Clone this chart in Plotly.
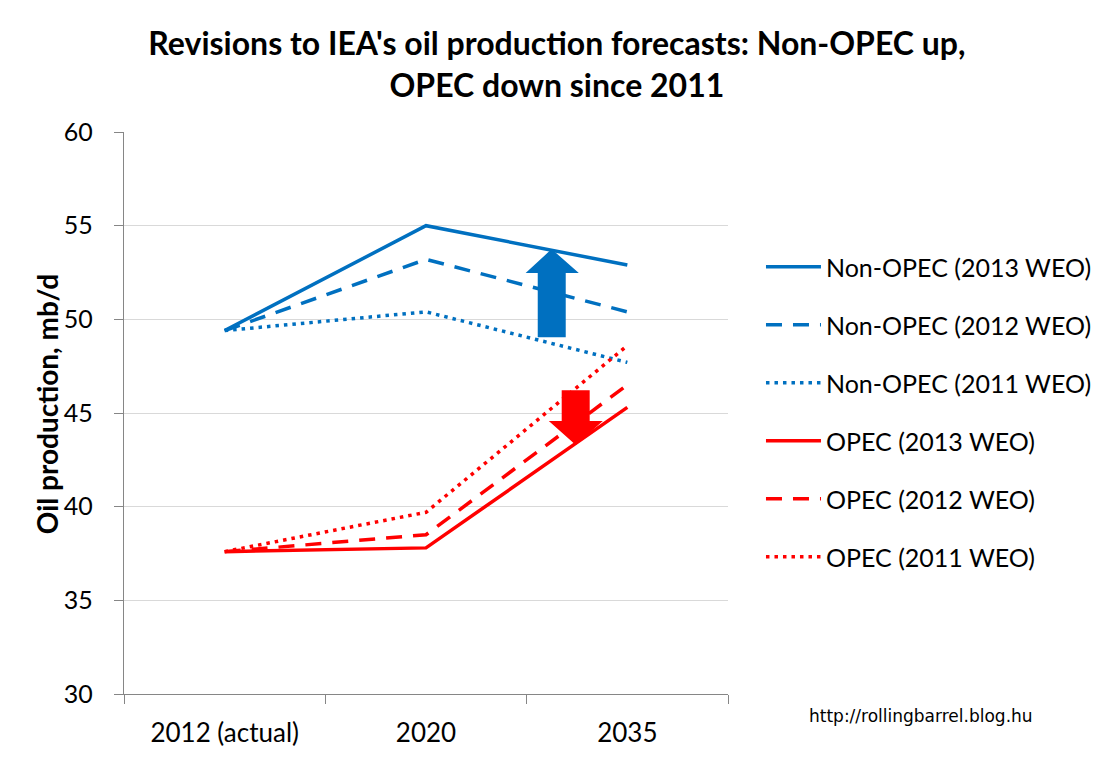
import plotly.graph_objects as go

categories = ["2012 (actual)", "2020", "2035"]
cat_pos = [0, 1, 2]

non_opec_2013 = [49.4, 55.0, 52.9]
non_opec_2012 = [49.4, 53.2, 50.4]
non_opec_2011 = [49.4, 50.4, 47.7]
opec_2013 = [37.6, 37.8, 45.3]
opec_2012 = [37.6, 38.5, 46.5]
opec_2011 = [37.6, 39.7, 48.6]

series_names = [
    "Non-OPEC (2013 WEO)", "Non-OPEC (2012 WEO)", "Non-OPEC (2011 WEO)",
    "OPEC (2013 WEO)", "OPEC (2012 WEO)", "OPEC (2011 WEO)",
]
series_values = [non_opec_2013, non_opec_2012, non_opec_2011,
                 opec_2013, opec_2012, opec_2011]

BLUE = "#0070C0"
RED = "#FF0000"
colors = [BLUE, BLUE, BLUE, RED, RED, RED]
dashes = ["solid", "16px,11px", "3.5px,5px", "solid", "16px,11px", "3.5px,5px"]

FONT = "Lato"
AXIS_GRAY = "#868686"

fig = go.Figure()
for i, (name, vals) in enumerate(zip(series_names, series_values)):
    fig.add_trace(go.Scatter(
        x=cat_pos, y=vals, name=name, mode="lines",
        line=dict(color=colors[i], width=3.5, dash=dashes[i]),
        legendgroup=f"g{i}",
    ))

# Arrows (data coordinates: x in category index units, y in mb/d)
up_arrow = dict(x_shaft=(1.555, 1.694), x_head=(1.495, 1.759), x_tip=1.624,
                y_base=49.05, y_head=52.47, y_tip=53.75)
down_arrow = dict(x_shaft=(1.674, 1.813), x_head=(1.610, 1.878), x_tip=1.744,
                  y_base=46.22, y_head=44.57, y_tip=43.29)


def arrow_path(a):
    xs0, xs1 = a["x_shaft"]
    xh0, xh1 = a["x_head"]
    return (f"M{xs0},{a['y_base']} L{xs1},{a['y_base']} L{xs1},{a['y_head']} "
            f"L{xh1},{a['y_head']} L{a['x_tip']},{a['y_tip']} L{xh0},{a['y_head']} "
            f"L{xs0},{a['y_head']} Z")


fig.add_shape(type="path", path=arrow_path(up_arrow), xref="x", yref="y",
              fillcolor=BLUE, line=dict(width=0), layer="above")
fig.add_shape(type="path", path=arrow_path(down_arrow), xref="x", yref="y",
              fillcolor=RED, line=dict(width=0), layer="above")

# The page body adds an 8px margin, so the figure is sized to fit inside it.
fig.update_layout(
    width=1100, height=745,
    margin=dict(l=116, r=380, t=124, b=59, autoexpand=False),
    paper_bgcolor="white", plot_bgcolor="white",
    font=dict(family=FONT, size=25, color="black"),
    title=dict(
        text="<b>Revisions to IEA's oil production forecasts: Non-OPEC up,<br>OPEC down since 2011</b>",
        x=0.499, xanchor="center", xref="container",
        y=0.937, yanchor="top", yref="container",
        font=dict(family=FONT, size=32, color="black"),
    ),
    legend=dict(
        x=1.0546, xanchor="left", y=0.8006, yanchor="top",
        traceorder="grouped", tracegroupgap=22.5,
        font=dict(family=FONT, size=25, color="black"),
        itemwidth=55, bgcolor="rgba(0,0,0,0)",
    ),
    showlegend=True,
)

fig.update_xaxes(
    range=[-0.5, 2.5], tickvals=cat_pos, ticktext=categories,
    ticks="", showgrid=False, zeroline=False, automargin=False,
    showline=True, linecolor=AXIS_GRAY, linewidth=1.3,
    tickfont=dict(family=FONT, size=26, color="black"),
    ticklabelstandoff=16,
    minor=dict(tickvals=[-0.5, 0.5, 1.5, 2.5], ticks="outside", ticklen=9,
               tickcolor=AXIS_GRAY, tickwidth=1.3, showgrid=False),
)
fig.update_yaxes(
    range=[30, 60], dtick=5, tick0=30, automargin=False,
    ticks="outside", ticklen=9, tickcolor=AXIS_GRAY, tickwidth=1.3,
    showgrid=True, gridcolor="#D9D9D9", gridwidth=1.3,
    zeroline=False, showline=True, linecolor=AXIS_GRAY, linewidth=1.3,
    tickfont=dict(family=FONT, size=25, color="black"),
    ticklabelstandoff=16,
)

fig.add_annotation(
    text="<b>Oil production, mb/d</b>", textangle=-90,
    xref="paper", yref="paper", x=-0.128, y=0.515,
    xanchor="center", yanchor="middle", showarrow=False,
    font=dict(family=FONT, size=28, color="black"),
)
fig.add_annotation(
    text="http://rollingbarrel.blog.hu",
    xref="paper", yref="paper", x=1.13, y=-0.04,
    xanchor="left", yanchor="middle", showarrow=False,
    font=dict(family="DejaVu Sans", size=17, color="black"),
)

fig.write_html("out.html")
